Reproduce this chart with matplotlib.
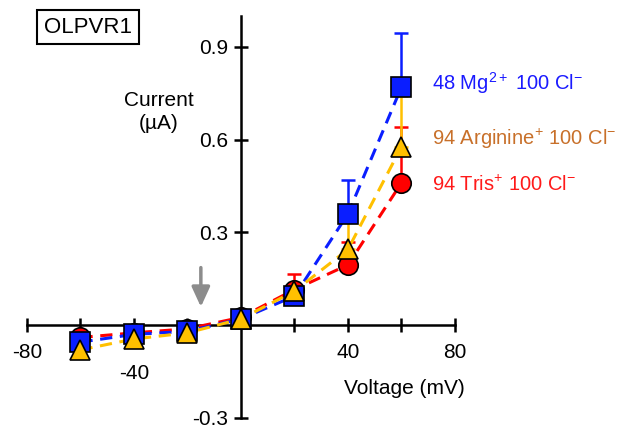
import numpy as np
import matplotlib
matplotlib.use('Agg')
import matplotlib.pyplot as plt

plt.rcParams['font.family'] = ['Liberation Sans', 'DejaVu Sans']
plt.rcParams['mathtext.fontset'] = 'custom'
plt.rcParams['mathtext.rm'] = 'Liberation Sans'
plt.rcParams['mathtext.it'] = 'Liberation Sans'

voltage = [-60, -40, -20, 0, 20, 40, 60]

mg_current = [-0.055, -0.03, -0.02, 0.02, 0.094, 0.36, 0.77]
mg_err = [0, 0, 0, 0, 0, 0.11, 0.175]

tris_current = [-0.04, -0.025, -0.012, 0.025, 0.115, 0.195, 0.46]
tris_err = [0, 0, 0, 0, 0.05, 0.075, 0.18]

arg_current = [-0.08, -0.045, -0.025, 0.02, 0.11, 0.245, 0.577]
arg_err = [0, 0, 0, 0, 0, 0.095, 0.165]

fig = plt.figure(figsize=(6.23, 4.29), dpi=100)
ax = fig.add_axes([0.0433, 0.026, 0.687, 0.9367])

blue = '#0a1eff'
red = '#ff0000'
gold = '#ffc000'

series = [
    (tris_current, tris_err, red, 'o'),
    (mg_current, mg_err, blue, 's'),
    (arg_current, arg_err, gold, '^'),
]
for cur, err, col, mk in series:
    ax.errorbar(voltage, cur, yerr=[np.zeros(len(err)), err], fmt='none',
                ecolor=col, elinewidth=1.8, capsize=5, capthick=1.8, zorder=2)
    ax.plot(voltage, cur, ls=(0, (4, 2.5)), color=col, lw=2.2, zorder=3)
    ax.plot(voltage, cur, ls='none', marker=mk, markersize=14,
            markerfacecolor=col, markeredgecolor='black', markeredgewidth=1.2,
            zorder=4, clip_on=False)

ax.set_xlim(-80, 80)
ax.set_ylim(-0.3, 1.0)
ax.spines['left'].set_position(('data', 0))
ax.spines['bottom'].set_position(('data', 0))
ax.spines['right'].set_visible(False)
ax.spines['top'].set_visible(False)
ax.spines['left'].set_linewidth(1.8)
ax.spines['bottom'].set_linewidth(1.8)

ax.set_xticks([-80, -60, -40, -20, 20, 40, 60, 80])
ax.set_xticklabels([])
ax.set_yticks([-0.3, 0.3, 0.6, 0.9])
ax.set_yticklabels(['-0.3', '0.3', '0.6', '0.9'])
ax.tick_params(direction='inout', length=10, width=1.8, labelsize=15, pad=4)

xlabels = [(-80, '-80', -13), (-40, '-40', -28), (40, '40', -13), (80, '80', -13)]
for xv, txt, off in xlabels:
    ax.annotate(txt, xy=(xv, 0), xytext=(0, off), textcoords='offset points',
                ha='center', va='top', fontsize=15)

ax.text(-30.7, 0.69, 'Current\n(µA)', ha='center', va='center', fontsize=15,
        linespacing=1.3)
ax.text(61, -0.205, 'Voltage (mV)', ha='center', va='center', fontsize=15)

ax.text(71.5, 0.784, r'48 Mg$^{2+}$ 100 Cl$^{-}$', color='#1a1aff',
        fontsize=14.5, va='center', ha='left', clip_on=False)
ax.text(71.5, 0.603, r'94 Arginine$^{+}$ 100 Cl$^{-}$', color='#c8702a',
        fontsize=14.5, va='center', ha='left', clip_on=False)
ax.text(71.5, 0.452, r'94 Tris$^{+}$ 100 Cl$^{-}$', color='#ff1a1a',
        fontsize=14.5, va='center', ha='left', clip_on=False)

ax.annotate('', xy=(-15, 0.05), xytext=(-15, 0.195),
            arrowprops=dict(arrowstyle='-|>,head_width=0.55,head_length=1.2',
                            color='#8c8c8c', lw=2.5))

fig.text(0.141, 0.937, 'OLPVR1', ha='center', va='center', fontsize=16,
         bbox=dict(boxstyle='square,pad=0.3', fc='white', ec='black', lw=1.5))

fig.savefig('out.png', dpi=100)
